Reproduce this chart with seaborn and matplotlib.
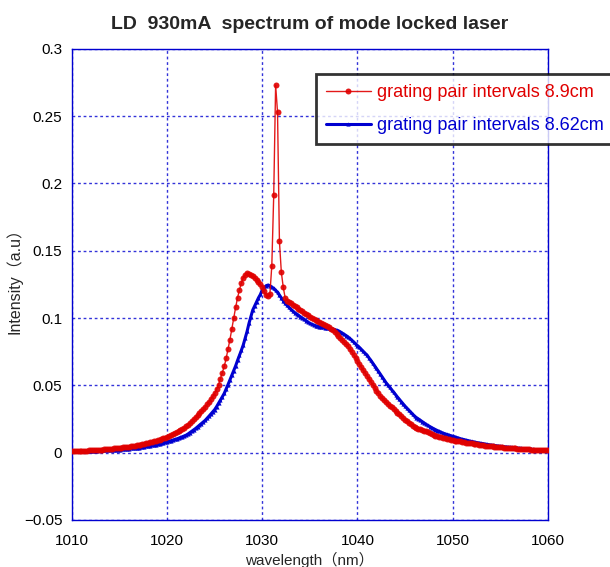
"""
Spectrum of the mode locked laser (LD 930mA) for two grating pair intervals.
"""

import numpy as np
import pandas as pd
import matplotlib
matplotlib.use("Agg")
import matplotlib.pyplot as plt
import seaborn as sns

# wavelength grid of the spectrometer (nm), 0.2 nm steps
wavelength = np.round(np.arange(1010.0, 1060.001, 0.2), 1)

# grating pair intervals 8.9cm (one row = 1 nm)
intensity_89 = [
    0.0010, 0.0011, 0.0011, 0.0012, 0.0012,
    0.0013, 0.0014, 0.0014, 0.0015, 0.0016,
    0.0017, 0.0018, 0.0019, 0.0020, 0.0021,
    0.0022, 0.0023, 0.0025, 0.0026, 0.0027,
    0.0028, 0.0030, 0.0031, 0.0033, 0.0034,
    0.0035, 0.0037, 0.0039, 0.0041, 0.0043,
    0.0045, 0.0047, 0.0050, 0.0052, 0.0055,
    0.0057, 0.0060, 0.0063, 0.0066, 0.0069,
    0.0072, 0.0076, 0.0080, 0.0084, 0.0088,
    0.0092, 0.0097, 0.0102, 0.0107, 0.0112,
    0.0117, 0.0123, 0.0130, 0.0137, 0.0143,
    0.0150, 0.0158, 0.0167, 0.0176, 0.0185,
    0.0195, 0.0207, 0.0222, 0.0236, 0.0250,
    0.0265, 0.0280, 0.0295, 0.0310, 0.0325,
    0.0340, 0.0358, 0.0378, 0.0398, 0.0418,
    0.0440, 0.0470, 0.0505, 0.0550, 0.0595,
    0.0640, 0.0700, 0.0770, 0.0840, 0.0920,
    0.1000, 0.1080, 0.1150, 0.1210, 0.1260,
    0.1300, 0.1320, 0.1335, 0.1330, 0.1320,
    0.1310, 0.1300, 0.1285, 0.1270, 0.1250,
    0.1230, 0.1200, 0.1170, 0.1160, 0.1180,
    0.1390, 0.1910, 0.2730, 0.2530, 0.1570,
    0.1340, 0.1230, 0.1150, 0.1130, 0.1120,
    0.1110, 0.1100, 0.1090, 0.1080, 0.1070,
    0.1060, 0.1050, 0.1040, 0.1030, 0.1020,
    0.1010, 0.1000, 0.0990, 0.0985, 0.0975,
    0.0970, 0.0960, 0.0952, 0.0945, 0.0937,
    0.0930, 0.0920, 0.0908, 0.0895, 0.0882,
    0.0870, 0.0855, 0.0840, 0.0822, 0.0805,
    0.0790, 0.0770, 0.0748, 0.0725, 0.0702,
    0.0680, 0.0658, 0.0636, 0.0614, 0.0592,
    0.0570, 0.0548, 0.0526, 0.0504, 0.0482,
    0.0460, 0.0442, 0.0424, 0.0406, 0.0388,
    0.0375, 0.0362, 0.0349, 0.0336, 0.0323,
    0.0310, 0.0297, 0.0284, 0.0271, 0.0258,
    0.0245, 0.0234, 0.0223, 0.0212, 0.0201,
    0.0190, 0.0184, 0.0178, 0.0172, 0.0168,
    0.0163, 0.0157, 0.0151, 0.0145, 0.0139,
    0.0130, 0.0126, 0.0122, 0.0118, 0.0114,
    0.0110, 0.0107, 0.0103, 0.0100, 0.0096,
    0.0093, 0.0090, 0.0088, 0.0085, 0.0083,
    0.0080, 0.0078, 0.0075, 0.0073, 0.0070,
    0.0068, 0.0066, 0.0063, 0.0061, 0.0058,
    0.0056, 0.0054, 0.0052, 0.0050, 0.0049,
    0.0047, 0.0046, 0.0044, 0.0043, 0.0041,
    0.0040, 0.0039, 0.0037, 0.0036, 0.0035,
    0.0034, 0.0033, 0.0032, 0.0031, 0.0030,
    0.0029, 0.0028, 0.0027, 0.0026, 0.0025,
    0.0024, 0.0023, 0.0022, 0.0022, 0.0021,
    0.0020, 0.0019, 0.0019, 0.0018, 0.0018,
    0.0017,
]

# grating pair intervals 8.62cm (one row = 1 nm)
intensity_862 = [
    0.0010, 0.0010, 0.0011, 0.0011, 0.0012,
    0.0012, 0.0012, 0.0013, 0.0013, 0.0013,
    0.0014, 0.0014, 0.0015, 0.0015, 0.0016,
    0.0016, 0.0017, 0.0017, 0.0018, 0.0018,
    0.0019, 0.0020, 0.0021, 0.0021, 0.0022,
    0.0023, 0.0024, 0.0026, 0.0027, 0.0029,
    0.0030, 0.0031, 0.0033, 0.0035, 0.0036,
    0.0038, 0.0040, 0.0042, 0.0044, 0.0046,
    0.0048, 0.0051, 0.0054, 0.0056, 0.0059,
    0.0062, 0.0065, 0.0069, 0.0073, 0.0076,
    0.0080, 0.0084, 0.0089, 0.0093, 0.0098,
    0.0102, 0.0107, 0.0113, 0.0118, 0.0124,
    0.0130, 0.0139, 0.0149, 0.0160, 0.0170,
    0.0180, 0.0192, 0.0204, 0.0216, 0.0228,
    0.0240, 0.0255, 0.0271, 0.0287, 0.0303,
    0.0320, 0.0342, 0.0366, 0.0390, 0.0415,
    0.0440, 0.0472, 0.0506, 0.0540, 0.0575,
    0.0610, 0.0645, 0.0685, 0.0722, 0.0760,
    0.0800, 0.0850, 0.0900, 0.0960, 0.1010,
    0.1060, 0.1090, 0.1120, 0.1150, 0.1175,
    0.1210, 0.1225, 0.1240, 0.1245, 0.1240,
    0.1230, 0.1220, 0.1205, 0.1190, 0.1170,
    0.1150, 0.1130, 0.1110, 0.1095, 0.1080,
    0.1065, 0.1052, 0.1040, 0.1030, 0.1020,
    0.1010, 0.1000, 0.0990, 0.0980, 0.0970,
    0.0960, 0.0955, 0.0948, 0.0943, 0.0938,
    0.0935, 0.0933, 0.0930, 0.0928, 0.0926,
    0.0925, 0.0922, 0.0918, 0.0914, 0.0910,
    0.0905, 0.0897, 0.0888, 0.0879, 0.0870,
    0.0860, 0.0848, 0.0835, 0.0822, 0.0808,
    0.0795, 0.0782, 0.0767, 0.0752, 0.0738,
    0.0725, 0.0705, 0.0685, 0.0665, 0.0645,
    0.0625, 0.0604, 0.0583, 0.0562, 0.0541,
    0.0520, 0.0502, 0.0484, 0.0466, 0.0448,
    0.0430, 0.0413, 0.0396, 0.0379, 0.0362,
    0.0345, 0.0330, 0.0315, 0.0300, 0.0285,
    0.0270, 0.0260, 0.0250, 0.0240, 0.0230,
    0.0220, 0.0211, 0.0202, 0.0194, 0.0186,
    0.0178, 0.0171, 0.0164, 0.0158, 0.0151,
    0.0145, 0.0140, 0.0135, 0.0131, 0.0126,
    0.0122, 0.0118, 0.0113, 0.0109, 0.0104,
    0.0100, 0.0097, 0.0093, 0.0090, 0.0086,
    0.0083, 0.0080, 0.0077, 0.0074, 0.0072,
    0.0069, 0.0067, 0.0064, 0.0062, 0.0059,
    0.0057, 0.0055, 0.0053, 0.0051, 0.0049,
    0.0047, 0.0046, 0.0044, 0.0043, 0.0041,
    0.0040, 0.0039, 0.0037, 0.0036, 0.0034,
    0.0033, 0.0032, 0.0030, 0.0029, 0.0028,
    0.0027, 0.0026, 0.0024, 0.0023, 0.0022,
    0.0021, 0.0020, 0.0019, 0.0018, 0.0018,
    0.0017,
]

label_89 = 'grating pair intervals 8.9cm'
label_862 = 'grating pair intervals 8.62cm'

x_ticks = [1010, 1020, 1030, 1040, 1050, 1060]
y_ticks = [-0.05, 0, 0.05, 0.1, 0.15, 0.2, 0.25, 0.3]
y_tick_labels = ['\u22120.05', '0', '0.05', '0.1', '0.15', '0.2', '0.25', '0.3']

RED = '#e00000'
BLUE = '#0000d0'


def main():
    sns.set_style('white')
    plt.rcParams['font.family'] = ['Liberation Sans', 'Noto Sans CJK JP', 'DejaVu Sans']

    df_89 = pd.DataFrame({'wavelength': wavelength, 'intensity': intensity_89})
    df_862 = pd.DataFrame({'wavelength': wavelength, 'intensity': intensity_862})

    fig = plt.figure(figsize=(6.10, 5.67), dpi=100)
    ax = fig.add_axes([0.118, 0.083, 0.780, 0.831])

    # red: thin line with round markers
    sns.lineplot(data=df_89, x='wavelength', y='intensity', ax=ax,
                 color=RED, linewidth=1.0, marker='o', markersize=4.3,
                 markeredgewidth=0, alpha=0.9, label=label_89, legend=False,
                 zorder=3)
    # blue: thick line with small markers
    sns.lineplot(data=df_862, x='wavelength', y='intensity', ax=ax,
                 color=BLUE, linewidth=2.2, marker='^', markersize=3,
                 markeredgewidth=0, label=label_862, legend=False,
                 zorder=2)

    ax.set_xlim(1010, 1060)
    ax.set_ylim(-0.05, 0.3)
    ax.set_xticks(x_ticks)
    ax.set_yticks(y_ticks)
    ax.set_yticklabels(y_tick_labels)
    ax.tick_params(axis='both', length=0, labelsize=11, colors='black')
    ax.tick_params(axis='x', pad=10)
    ax.tick_params(axis='y', pad=7)

    ax.grid(True, color=BLUE, linestyle=(0, (2, 2)), linewidth=1.0, alpha=0.8)
    for spine in ax.spines.values():
        spine.set_color(BLUE)
        spine.set_linewidth(1.0)

    ax.set_title('LD  930mA  spectrum of mode locked laser',
                 fontsize=14, fontweight='bold', pad=14)
    ax.set_xlabel('wavelength\uff08nm\uff09', fontsize=11, labelpad=3)
    ax.set_ylabel('Intensity\uff08a.u\uff09', fontsize=11.5)
    ax.yaxis.set_label_coords(-0.103, 0.516)

    leg = ax.legend(loc='upper left', bbox_to_anchor=(0.518, 0.8695),
                    bbox_transform=fig.transFigure, borderaxespad=0,
                    fontsize=13, frameon=True, fancybox=False, borderpad=0.55,
                    handlelength=2.5, handletextpad=0.33, labelspacing=0.9)
    leg.get_frame().set_edgecolor('black')
    leg.get_frame().set_linewidth(2.0)
    for text, color in zip(leg.get_texts(), [RED, BLUE]):
        text.set_color(color)

    plt.savefig('out.png', dpi=100)
    plt.close()


if __name__ == "__main__":
    main()
